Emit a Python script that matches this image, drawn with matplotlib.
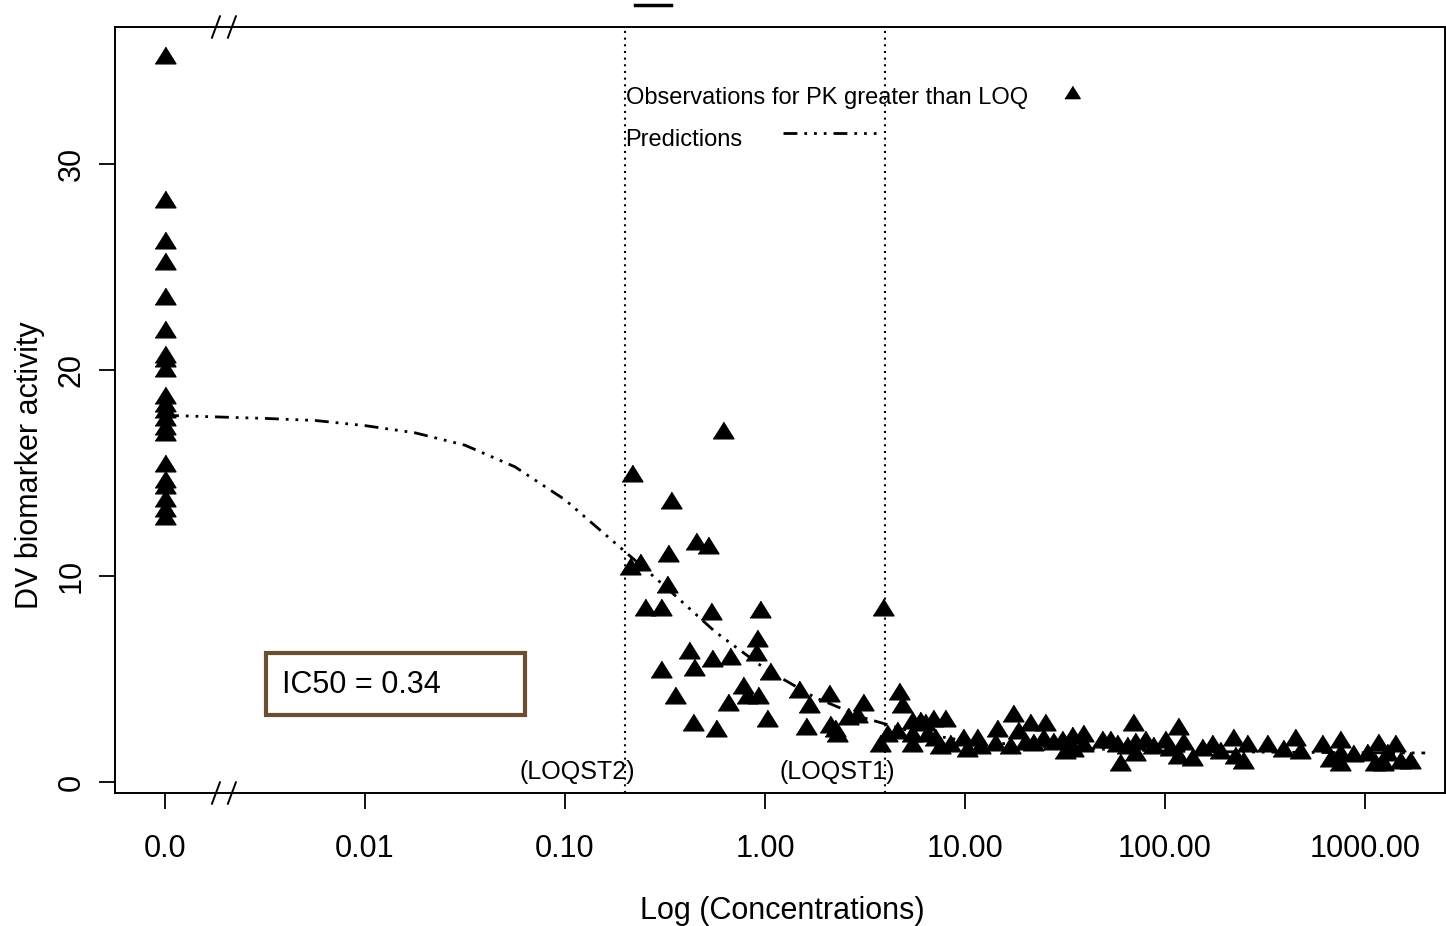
import matplotlib
matplotlib.use("Agg")
import matplotlib.pyplot as plt
from matplotlib.patches import Rectangle
from matplotlib.lines import Line2D

plt.rcParams["font.family"] = ["Liberation Sans", "DejaVu Sans"]

# conc 0 is drawn at the "0.0" tick (1e-3 on the log axis)
ZERO_POS = 1e-3

# observations at concentration 0
obs_zero_dv = [35.3, 28.3, 26.3, 25.3, 23.6, 22.0, 20.8, 20.6, 20.1, 18.8, 18.4,
               18.1, 17.7, 17.3, 17.0, 15.5, 14.7, 14.4, 13.8, 13.3, 12.9]

# observations with concentration > 0
obs_conc = [0.216, 0.617, 0.339, 0.452, 0.519, 0.327, 0.211, 0.237, 0.324, 0.251,
            0.302, 0.537, 0.944, 3.89, 0.912, 0.417, 0.902, 0.543, 0.668, 0.442,
            0.302, 1.06, 0.776, 0.813, 0.923, 1.48, 2.09, 0.355, 0.653, 1.66,
            3.09, 2.6, 2.88, 1.02, 0.437, 0.569, 1.6, 2.11, 2.24, 2.29,
            3.76, 4.07, 4.57,
            4.68, 4.84, 5.43, 5.96, 6.31, 6.92, 7.94, 5.43, 6.46, 7.08,
            5.43, 7.5, 8.41, 9.77, 10.2, 11.5, 11.9, 14.5, 14.1, 16.8,
            17.4, 18.4, 21.1, 25.1, 20.0, 21.9, 24.5, 27.5, 30.5, 34.3,
            31.6, 38.9, 38.9, 34.7, 48.4, 53.1, 57.5, 59.6, 69.2, 64.6,
            70.8, 70.8, 79.4, 87.1, 100, 106, 116, 123, 116, 136,
            153, 172, 188, 219, 224, 257, 245, 324, 389, 447,
            473, 610, 750, 668, 750, 871, 750, 1023, 1161, 1413,
            1122, 1230, 1496, 1679, 1288]
obs_dv = [15.0, 17.1, 13.7, 11.7, 11.5, 11.1, 10.5, 10.7, 9.6, 8.5,
          8.5, 8.3, 8.4, 8.5, 7.0, 6.4, 6.3, 6.0, 6.1, 5.6,
          5.5, 5.4, 4.7, 4.2, 4.2, 4.5, 4.3, 4.2, 3.9, 3.8,
          3.9, 3.2, 3.3, 3.1, 2.9, 2.6, 2.7, 2.8, 2.6, 2.4,
          1.9, 2.4, 2.5,
          4.4, 3.8, 3.0, 3.0, 2.9, 3.1, 3.1, 2.4, 2.4, 2.2,
          1.9, 1.8, 1.9, 2.2, 1.65, 2.2, 1.8, 2.6, 1.95, 1.8,
          3.35, 2.5, 2.9, 2.9, 2.0, 1.95, 2.2, 2.0, 2.1, 2.3,
          1.55, 2.4, 1.9, 1.65, 2.1, 2.1, 1.9, 0.97, 2.9, 1.8,
          2.0, 1.45, 2.1, 1.8, 2.1, 1.7, 2.7, 2.0, 1.3, 1.2,
          1.7, 1.9, 1.55, 2.2, 1.3, 1.9, 1.07, 1.9, 1.65, 2.2,
          1.55, 1.9, 2.1, 1.15, 1.45, 1.4, 0.97, 1.45, 1.95, 1.9,
          0.97, 0.97, 1.07, 1.07, 1.45]

# model predictions
pred_conc = [0, 0.00316, 0.00562, 0.01, 0.0178, 0.0316, 0.0562, 0.1, 0.178,
             0.316, 0.562, 1.0, 1.78, 3.16, 5.62, 10, 31.6, 100, 316, 1000, 2000]
pred_dv = [17.8, 17.65, 17.55, 17.3, 16.95, 16.35, 15.3, 13.7, 11.6,
           9.5, 7.3, 5.5, 4.1, 3.1, 2.4, 2.0, 1.65, 1.5, 1.45, 1.42, 1.41]

loq_lines = [0.2, 4.0]
loq_labels = ["(LOQST2)", "(LOQST1)"]

xticks = [1e-3, 1e-2, 1e-1, 1, 10, 100, 1000]
xtick_labels = ["0.0", "0.01", "0.10", "1.00", "10.00", "100.00", "1000.00"]
yticks = [0, 10, 20, 30]
ic50_text = "IC50 = 0.34"

TRI = [(-0.5, -0.4), (0.5, -0.4), (0, 0.4)]
DASH = (5, 2.5, 1, 2.5, 1, 2.5, 1, 2.5)


def _pos(c):
    return c if c > 0 else ZERO_POS


fig = plt.figure(figsize=(14.46, 9.26), dpi=100)
ax = fig.add_axes([115 / 1446, 133 / 926, 1330 / 1446, 766 / 926])
ax.set_xscale("log")
ax.set_xlim(10 ** -3.25, 10 ** 3.4)
ax.set_ylim(-0.534, 36.65)

for xv in loq_lines:
    ax.axvline(xv, color="black", linestyle=(0, (1, 2.2)), lw=1.5)
for xv, lab in zip(loq_lines, loq_labels):
    ax.annotate(lab, (xv, 0.49), xytext=(7, 0), textcoords="offset points",
                ha="right", va="center", fontsize=18)

ax.plot([_pos(c) for c in pred_conc], pred_dv, color="black", lw=2,
        dashes=DASH)
ax.plot([ZERO_POS] * len(obs_zero_dv), obs_zero_dv, linestyle="none",
        marker=TRI, ms=15, color="black")
ax.plot(obs_conc, obs_dv, linestyle="none", marker=TRI, ms=15, color="black")

ax.set_xticks(xticks)
ax.set_xticklabels(xtick_labels)
ax.xaxis.set_minor_locator(matplotlib.ticker.NullLocator())
ax.set_yticks(yticks)
ax.set_yticklabels([str(v) for v in yticks], rotation=90, va="center")
ax.tick_params(axis="both", direction="out", length=11.5, width=1.3,
               labelsize=22)
ax.tick_params(axis="x", pad=18)
ax.tick_params(axis="y", pad=9)
for sp in ax.spines.values():
    sp.set_linewidth(1.4)

ax.set_xlabel("Log (Concentrations)", fontsize=22, va="center")
ax.xaxis.set_label_coords(0.502, -0.154)
ax.set_ylabel("DV biomarker activity", fontsize=22, va="center")
ax.yaxis.set_label_coords(-0.064, 0.428)

# legend drawn by hand, as in the original
ax.text(0.3839, 0.9073, "Observations for PK greater than LOQ", fontsize=17,
        transform=ax.transAxes, ha="left", va="center")
ax.text(0.3839, 0.8525, "Predictions", fontsize=17,
        transform=ax.transAxes, ha="left", va="center")
ax.add_line(Line2D([0.7198], [0.9151], transform=ax.transAxes, marker=TRI,
                   ms=11, color="black", linestyle="none"))
ax.add_line(Line2D([0.5019, 0.5770], [0.8616, 0.8616], transform=ax.transAxes,
                   color="black", lw=2, dashes=DASH))

# IC50 box
ax.add_patch(Rectangle((0.1134, 0.1018), 0.1946, 0.081, transform=ax.transAxes,
                       fill=False, edgecolor="#6b4f33", lw=3))
ax.text(0.1255, 0.141, ic50_text, fontsize=22, transform=ax.transAxes,
        ha="left", va="center")

# axis break marks
for xf in (0.0759, 0.0879):
    for yf in (0.0, 1.0):
        ax.plot([xf - 0.003, xf + 0.003], [yf - 0.014, yf + 0.014],
                transform=ax.transAxes, color="black", lw=1.4, clip_on=False)

# small bar at the top
fig.add_artist(Line2D([635 / 1446, 671 / 1446], [0.995, 0.995], color="black",
                      lw=2.5))

fig.savefig("out.png", dpi=100)
